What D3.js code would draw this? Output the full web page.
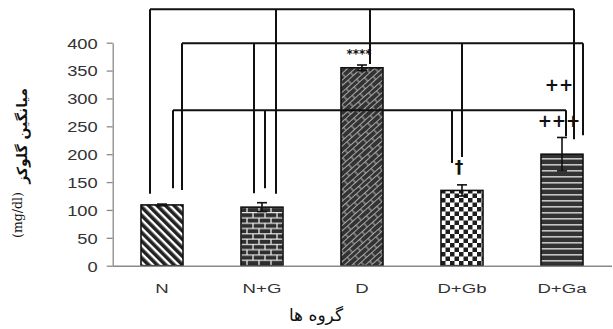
<!DOCTYPE html>
<html>
<head>
<meta charset="utf-8">
<script src="https://cdn.jsdelivr.net/npm/d3@7"></script>
<style>
  body { margin: 0; background: #fff; }
  svg { display: block; }
</style>
</head>
<body>
<div id="chart"></div>
<script>
// data
var categories = ["N", "N+G", "D", "D+Gb", "D+Ga"];
var means = [109, 105, 355, 135, 200];
var errors = [1.5, 8, 5, 10, 30];
var yTicks = [0, 50, 100, 150, 200, 250, 300, 350, 400];
var patterns = ["diag", "brick", "weave", "checker", "hstripe"];

// significance marks
var sigText = ["****", "\u2020", "+++", "++"];
var sigCat = ["D", "D+Gb", "D+Ga", "D+Ga"];
var sigValue = [380, 177, 259, 325];

// comparison brackets: level (mg/dl), then drops [category, px offset, end value]
var bracketLevels = [460, 399, 279];
var bracketDrops = [
  [["N", -12, 129], ["N+G", 14, 129], ["D", 8, 362], ["D+Ga", 12, 227]],
  [["N", 20, 136], ["N+G", -8, 130], ["D+Gb", 0, 195], ["D+Ga", 21, 234]],
  [["N", 11, 139], ["N+G", 3, 139], ["D+Gb", -10, 184], ["D+Ga", 4, 232]]
];

var width = 613, height = 329;

var svg = d3.select("#chart").append("svg")
  .attr("width", width)
  .attr("height", height);

// fill patterns
var defs = svg.append("defs");

var p = defs.append("pattern").attr("id", "diag")
  .attr("patternUnits", "userSpaceOnUse").attr("width", 6).attr("height", 6)
  .attr("patternTransform", "rotate(-45)");
p.append("rect").attr("width", 6).attr("height", 6).attr("fill", "#fff");
p.append("rect").attr("width", 3.6).attr("height", 6).attr("fill", "#222");

p = defs.append("pattern").attr("id", "brick")
  .attr("patternUnits", "userSpaceOnUse").attr("width", 12).attr("height", 10.6);
p.append("rect").attr("width", 12).attr("height", 10.6).attr("fill", "#2e2e2e");
p.append("path")
  .attr("d", "M0,0.6H12M0,5.9H12M1,0V5.3M7,5.3V10.6")
  .attr("stroke", "#e8e8e8").attr("stroke-width", 1.3).attr("fill", "none");

p = defs.append("pattern").attr("id", "weave")
  .attr("patternUnits", "userSpaceOnUse").attr("width", 14).attr("height", 9)
  .attr("patternTransform", "rotate(-42)");
p.append("rect").attr("width", 14).attr("height", 9).attr("fill", "#333");
p.append("path")
  .attr("d", "M0,0.5H14M0,4.5H14M2,0.5V4.5M9,4.5V9")
  .attr("stroke", "#a8a8a8").attr("stroke-width", 1.1).attr("fill", "none");

p = defs.append("pattern").attr("id", "checker")
  .attr("patternUnits", "userSpaceOnUse").attr("width", 9).attr("height", 9);
p.append("rect").attr("width", 9).attr("height", 9).attr("fill", "#fff");
p.append("rect").attr("width", 4.5).attr("height", 4.5).attr("fill", "#1e1e1e");
p.append("rect").attr("x", 4.5).attr("y", 4.5).attr("width", 4.5).attr("height", 4.5).attr("fill", "#1e1e1e");

p = defs.append("pattern").attr("id", "hstripe")
  .attr("patternUnits", "userSpaceOnUse").attr("width", 6).attr("height", 6);
p.append("rect").attr("width", 6).attr("height", 6).attr("fill", "#333");
p.append("rect").attr("y", 2).attr("width", 6).attr("height", 1.6).attr("fill", "#c4c4c4");

// scales
var x = d3.scaleBand()
  .domain(categories)
  .range([112, 612])
  .paddingInner(0.58)
  .paddingOuter(0.29);
var y = d3.scaleLinear()
  .domain([0, 400])
  .range([265.7, 42.7]);

function cx(c) { return x(c) + x.bandwidth() / 2; }

// y axis
var yAxis = svg.append("g")
  .attr("transform", "translate(112.7,0)")
  .call(d3.axisLeft(y).tickValues(yTicks).tickSize(6).tickSizeOuter(0).tickFormat(d3.format("d")));
yAxis.select(".domain").attr("stroke", "#8a8a8a").attr("stroke-width", 1.3);
yAxis.selectAll(".tick line").attr("stroke", "#8a8a8a").attr("stroke-width", 1.3);
yAxis.selectAll(".tick text")
  .attr("x", null).attr("dy", "0.36em")
  .attr("transform", "translate(-15,0) scale(1.22,1)")
  .attr("font-family", "Liberation Sans, Arial, sans-serif")
  .attr("font-size", 15)
  .attr("fill", "#333");

// bars
var data = categories.map(function (c, i) {
  return { name: c, mean: means[i], err: errors[i], pat: patterns[i] };
});

svg.selectAll("rect.bar")
  .data(data)
  .enter().append("rect")
  .attr("class", "bar")
  .attr("x", function (d) { return x(d.name); })
  .attr("width", x.bandwidth())
  .attr("y", function (d) { return y(d.mean); })
  .attr("height", function (d) { return y(0) - y(d.mean); })
  .attr("fill", function (d) { return "url(#" + d.pat + ")"; })
  .attr("stroke", "#111")
  .attr("stroke-width", 1.6);

// x axis
var xAxis = svg.append("g")
  .attr("transform", "translate(0," + y(0) + ")")
  .call(d3.axisBottom(x).tickSize(0).tickSizeOuter(0).tickPadding(0));
xAxis.select(".domain").attr("stroke", "#8a8a8a").attr("stroke-width", 1.6)
  .attr("d", "M112.7,0.5H612");
xAxis.selectAll(".tick text")
  .attr("y", null).attr("dy", null)
  .attr("transform", "translate(0,27) scale(1.38,1)")
  .attr("font-family", "Liberation Sans, Arial, sans-serif")
  .attr("font-size", 13.5)
  .attr("fill", "#333");

// error bars
var eb = svg.selectAll("g.err")
  .data(data)
  .enter().append("g")
  .attr("class", "err")
  .attr("stroke", "#111")
  .attr("stroke-width", 1.6);
eb.append("line")
  .attr("x1", function (d) { return cx(d.name); })
  .attr("x2", function (d) { return cx(d.name); })
  .attr("y1", function (d) { return y(d.mean + d.err); })
  .attr("y2", function (d) { return y(d.mean - d.err); });
eb.append("line")
  .attr("x1", function (d) { return cx(d.name) - 5; })
  .attr("x2", function (d) { return cx(d.name) + 5; })
  .attr("y1", function (d) { return y(d.mean + d.err); })
  .attr("y2", function (d) { return y(d.mean + d.err); });
eb.append("line")
  .attr("x1", function (d) { return cx(d.name) - 5; })
  .attr("x2", function (d) { return cx(d.name) + 5; })
  .attr("y1", function (d) { return y(d.mean - d.err); })
  .attr("y2", function (d) { return y(d.mean - d.err); });

// comparison brackets
var br = svg.append("g").attr("stroke", "#111").attr("stroke-width", 2).attr("fill", "none");
bracketLevels.forEach(function (lvl, i) {
  var drops = bracketDrops[i];
  var xs = drops.map(function (d) { return cx(d[0]) + d[1]; });
  br.append("line")
    .attr("x1", d3.min(xs)).attr("x2", d3.max(xs))
    .attr("y1", y(lvl)).attr("y2", y(lvl));
  drops.forEach(function (d, j) {
    br.append("line")
      .attr("x1", xs[j]).attr("x2", xs[j])
      .attr("y1", y(lvl)).attr("y2", y(d[2]));
  });
});

// significance labels
sigText.forEach(function (t, i) {
  svg.append("text")
    .attr("x", cx(sigCat[i]) - 3)
    .attr("y", y(sigValue[i]))
    .attr("text-anchor", "middle")
    .attr("dominant-baseline", "central")
    .attr("font-family", "DejaVu Sans, sans-serif")
    .attr("font-weight", "bold")
    .attr("font-size", t === "****" ? 12 : 17)
    .attr("fill", "#111")
    .text(t);
});

// axis titles
svg.append("text")
  .attr("transform", "translate(316,321)")
  .attr("text-anchor", "middle")
  .attr("direction", "rtl")
  .attr("font-family", "DejaVu Sans, sans-serif")
  .attr("font-size", 17)
  .attr("fill", "#111")
  .text("گروه ها");

svg.append("text")
  .attr("transform", "translate(27,136) rotate(-90)")
  .attr("text-anchor", "middle")
  .attr("direction", "rtl")
  .attr("font-family", "DejaVu Sans, sans-serif")
  .attr("font-weight", "bold")
  .attr("font-size", 14)
  .attr("fill", "#111")
  .text("میانگین گلوکز");

svg.append("text")
  .attr("transform", "translate(22,215) rotate(-90)")
  .attr("text-anchor", "middle")
  .attr("font-family", "DejaVu Serif, serif")
  .attr("font-size", 12.5)
  .attr("fill", "#111")
  .text("(mg/dl)");
</script>
</body>
</html>
